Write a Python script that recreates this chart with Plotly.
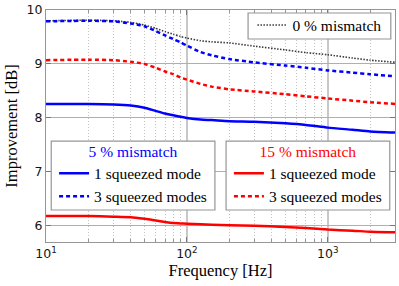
import plotly.graph_objects as go

freq = [10, 20, 30, 40, 50, 60, 70, 80, 90, 100, 125, 150, 200, 300, 500, 700, 1000, 1500, 2000, 3000]

mm0_3modes = [9.80, 9.81, 9.80, 9.77, 9.72, 9.66, 9.60, 9.55, 9.51, 9.48, 9.43, 9.41, 9.39, 9.33, 9.26, 9.21, 9.17, 9.11, 9.07, 9.03]
mm5_3modes = [9.79, 9.80, 9.79, 9.75, 9.70, 9.61, 9.53, 9.46, 9.40, 9.34, 9.22, 9.16, 9.09, 9.03, 8.97, 8.93, 8.88, 8.84, 8.81, 8.77]
mm15_3modes = [9.07, 9.08, 9.07, 9.04, 9.00, 8.93, 8.86, 8.81, 8.75, 8.71, 8.63, 8.58, 8.53, 8.49, 8.44, 8.40, 8.36, 8.32, 8.29, 8.26]
mm5_1mode = [8.26, 8.26, 8.25, 8.23, 8.19, 8.13, 8.08, 8.05, 8.02, 8.00, 7.97, 7.96, 7.94, 7.93, 7.90, 7.87, 7.82, 7.78, 7.75, 7.73]
mm15_1mode = [6.18, 6.18, 6.17, 6.16, 6.13, 6.10, 6.07, 6.05, 6.045, 6.04, 6.03, 6.02, 6.01, 6.00, 5.98, 5.96, 5.93, 5.91, 5.89, 5.88]

x_tickvals = [10, 100, 1000]
x_ticktext = ["10<sup>1</sup>", "10<sup>2</sup>", "10<sup>3</sup>"]
x_minor = [20, 30, 40, 50, 60, 70, 80, 90, 200, 300, 400, 500, 600, 700, 800, 900, 2000, 3000]
y_tickvals = [6, 7, 8, 9, 10]

BLUE = "rgb(0,0,255)"
RED = "rgb(255,0,0)"
SERIF = "Liberation Serif"

fig = go.Figure()

fig.add_trace(go.Scatter(x=freq, y=mm0_3modes, mode="lines", name="0 % mismatch",
                         line=dict(color="rgb(60,60,60)", width=1.6, dash="1.5px,1.5px", shape="spline", smoothing=0.6),
                         legend="legend"))
fig.add_trace(go.Scatter(x=freq, y=mm5_1mode, mode="lines", name="1 squeezed mode",
                         line=dict(color=BLUE, width=2.5, shape="spline", smoothing=0.6),
                         legend="legend2"))
fig.add_trace(go.Scatter(x=freq, y=mm5_3modes, mode="lines", name="3 squeezed modes",
                         line=dict(color=BLUE, width=2.5, dash="4px,3px", shape="spline", smoothing=0.6),
                         legend="legend2"))
fig.add_trace(go.Scatter(x=freq, y=mm15_1mode, mode="lines", name="1 squeezed mode",
                         line=dict(color=RED, width=2.5, shape="spline", smoothing=0.6),
                         legend="legend3"))
fig.add_trace(go.Scatter(x=freq, y=mm15_3modes, mode="lines", name="3 squeezed modes",
                         line=dict(color=RED, width=2.5, dash="4px,3px", shape="spline", smoothing=0.6),
                         legend="legend3"))

box_line = dict(color="rgb(150,150,150)", width=1.2)
boxes = [
    (0.579, 0.988, 0.875, 0.987),
    (0.015, 0.484, 0.138, 0.435),
    (0.516, 0.985, 0.138, 0.435),
]
for x0, x1, y0, y1 in boxes:
    fig.add_shape(type="rect", xref="paper", yref="paper", x0=x0, x1=x1, y0=y0, y1=y1,
                  fillcolor="white", line=box_line, layer="above")

legend_font = dict(family=SERIF, size=15.5, color="black")
common_leg = dict(bgcolor="rgba(0,0,0,0)", borderwidth=0, font=legend_font,
                  xref="paper", yref="paper", xanchor="center", yanchor="top")
fig.update_layout(
    legend=dict(**common_leg, x=(0.579 + 0.988) / 2, y=1.007),
    legend2=dict(**common_leg, x=(0.015 + 0.484) / 2, y=0.455,
                 title=dict(text="5 % mismatch", side="top center",
                            font=dict(family=SERIF, size=15.5, color=BLUE))),
    legend3=dict(**common_leg, x=(0.516 + 0.985) / 2, y=0.455,
                 title=dict(text="15 % mismatch", side="top center",
                            font=dict(family=SERIF, size=15.5, color=RED))),
)

fig.update_xaxes(
    type="log", range=[1, 3.477], automargin=False,
    tickmode="array", tickvals=x_tickvals, ticktext=x_ticktext,
    ticks="inside", ticklen=5, tickcolor="rgb(120,120,120)",
    showgrid=True, gridcolor="rgb(200,200,200)", gridwidth=1.5,
    minor=dict(tickmode="array", tickvals=x_minor, ticks="inside", ticklen=3,
               tickcolor="rgb(150,150,150)", showgrid=True,
               gridcolor="rgb(195,195,195)", griddash="1px,2px", gridwidth=1),
    showline=True, linecolor="rgb(150,150,150)", linewidth=1.2, mirror="ticks",
    tickfont=dict(family="DejaVu Sans", size=12.5, color="rgb(20,20,20)"),
    title=dict(text="Frequency [Hz]", font=dict(family=SERIF, size=16.5, color="black"), standoff=4),
    zeroline=False,
)
fig.update_yaxes(
    range=[5.7, 10.0], automargin=False,
    tickmode="array", tickvals=y_tickvals,
    ticks="inside", ticklen=5, tickcolor="rgb(120,120,120)",
    showgrid=True, gridcolor="rgb(175,175,175)", gridwidth=1,
    showline=True, linecolor="rgb(150,150,150)", linewidth=1.2, mirror="ticks",
    tickfont=dict(family="DejaVu Sans", size=12.5, color="rgb(20,20,20)"),
    title=dict(text="Improvement [dB]", font=dict(family=SERIF, size=16.5, color="black"), standoff=4),
    zeroline=False,
)

fig.update_layout(
    width=399, height=286,
    margin=dict(l=46, r=4, t=10, b=44),
    paper_bgcolor="white", plot_bgcolor="white",
    showlegend=True,
)

fig.write_html("out.html", config={"displayModeBar": False},
               post_script="document.body.style.margin='0';document.body.style.overflow='hidden';")
